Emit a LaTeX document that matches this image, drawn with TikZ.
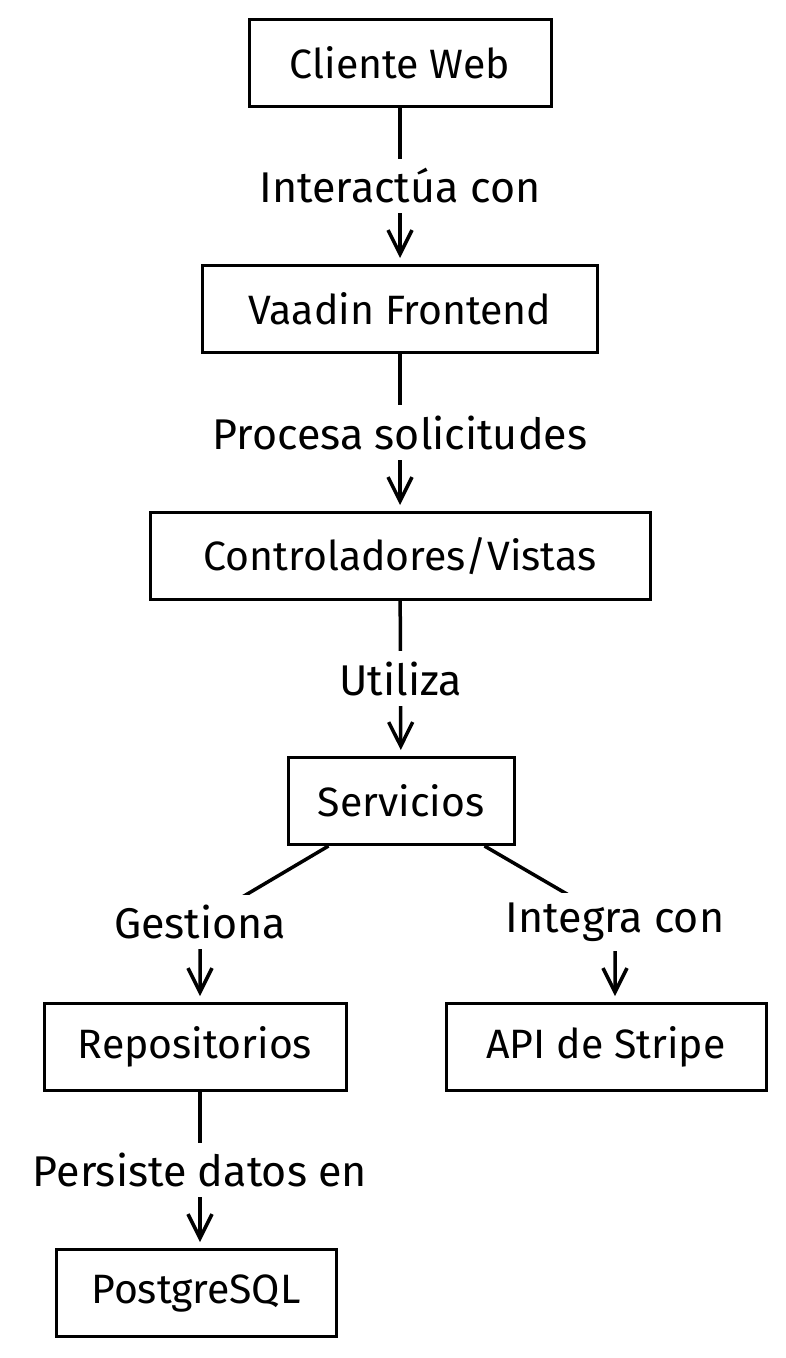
\documentclass[tikz,border=0pt]{standalone}
\usepackage{fontspec}
\setmainfont{Fira Sans}
\usetikzlibrary{arrows.meta}

\begin{document}
\begin{tikzpicture}[x=1pt,y=-1pt]
  \tikzset{box/.style = {shape=rectangle,draw,line width=3pt,minimum height=87pt,font=\fontsize{41}{46}\selectfont}}
  \tikzset{edge/.style = {line width=3.5pt,shorten >=6pt,-{Straight Barb[length=24pt,width=24pt,line width=3.5pt]}}}
  \tikzset{lbl/.style = {fill=white,inner xsep=4pt,inner ysep=10pt,font=\fontsize{43}{48}\selectfont}}
  \useasboundingbox (0,0) rectangle (785,1358);
	\node[box,minimum width=302pt] (cliente) at (400,63) {Cliente Web};
	\node[box,minimum width=395pt] (vaadin) at (400,309) {Vaadin Frontend};
	\node[box,minimum width=500pt] (control) at (400,556) {Controladores/Vistas};
	\node[box,minimum width=226pt] (servicios) at (401,801) {Servicios};
	\node[box,minimum width=302pt] (repos) at (195,1047) {Repositorios};
	\node[box,minimum width=320pt] (stripe) at (606,1047) {API de Stripe};
	\node[box,minimum width=280pt] (postgres) at (196,1293) {PostgreSQL};
	\coordinate (gl) at (200,922);
	\coordinate (gr) at (615,922);

    \draw[edge] (cliente) -- node[lbl]{Interactúa con} (vaadin);
    \draw[edge] (vaadin) -- node[lbl]{Procesa solicitudes} (control);
    \draw[edge] (control) -- node[lbl]{Utiliza} (servicios);
    \draw[edge] ([xshift=42pt]servicios.south west) -- (gl) -- (repos.north -| gl);
    \node[lbl] at (gl) {Gestiona};
    \draw[edge] ([xshift=-31pt]servicios.south east) -- (gr) -- (stripe.north -| gr);
    \node[lbl] at (gr) {Integra con};
    \draw[edge] (repos.south -| gl) -- node[lbl]{Persiste datos en} (postgres.north -| gl);
\end{tikzpicture}
\end{document}
